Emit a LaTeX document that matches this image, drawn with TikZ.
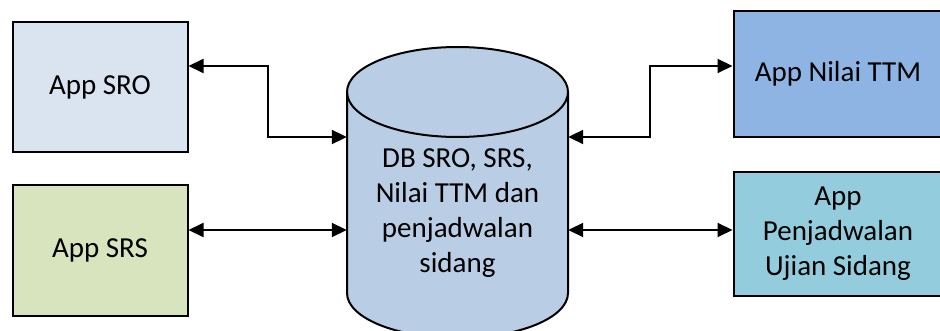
\documentclass[tikz,border=0pt]{standalone}
\usepackage{fontspec}
\setmainfont{Carlito}
\usetikzlibrary{arrows.meta,calc}
\definecolor{sroFill}{HTML}{DAE3F0}
\definecolor{srsFill}{HTML}{D7E4BD}
\definecolor{dbFill}{HTML}{B9CDE5}
\definecolor{ttmFill}{HTML}{8EB4E3}
\definecolor{pjwFill}{HTML}{93CDDD}
\tikzset{
  appbox/.style={draw=black, line width=2pt, align=center, inner sep=0pt,
    font=\fontsize{29}{35}\selectfont},
  link/.style={draw=black, line width=2pt,
    {Triangle[length=15pt,width=14pt]}-{Triangle[length=15pt,width=14pt]}},
}
\begin{document}
\begin{tikzpicture}[x=1pt,y=-1pt]
\useasboundingbox (0,0) rectangle (940,331);
\fill[white] (0,0) rectangle (940,331);
\clip (0,0) rectangle (940,331);

% application boxes
\node[appbox, fill=sroFill, minimum width=175pt, minimum height=130pt] (sro) at (100,87.5) {\raisebox{-2pt}{App SRO}};
\node[appbox, fill=srsFill, minimum width=175pt, minimum height=130pt] (srs) at (100,250.5) {App SRS};
\node[appbox, fill=ttmFill, minimum width=209pt, minimum height=126pt] (ttm) at (838,74) {\raisebox{-3pt}{App Nilai TTM}};
\node[appbox, fill=pjwFill, minimum width=209pt, minimum height=124pt] (pjw) at (838,234) {App\\Penjadwalan\\Ujian Sidang};

% database cylinder
\node[minimum width=221pt, minimum height=291pt, inner sep=0pt] (db) at (457.5,192.5) {};
\filldraw[fill=dbFill, line width=2pt]
  (347,92) -- (347,293) arc[start angle=180, end angle=360, x radius=110.5pt, y radius=45pt]
  -- (568,92) arc[start angle=0, end angle=180, x radius=110.5pt, y radius=45pt] -- cycle;
\draw[line width=2pt] (347,92) arc[start angle=180, end angle=360, x radius=110.5pt, y radius=45pt];
\node[align=center, inner sep=0pt, font=\fontsize{29}{35}\selectfont] (dbtext) at (457.5,213)
  {DB SRO, SRS,\\Nilai TTM dan\\penjadwalan\\sidang};

% connectors
\coordinate (top) at (0,66);
\coordinate (upper) at (0,137);
\coordinate (lower) at (0,230);
\draw[link] (sro.east |- top) -- (268,66) -- (268,137) -- (db.west |- upper);
\draw[link] (srs.east |- lower) -- (db.west |- lower);
\draw[link] (db.east |- upper) -- (650,137) -- (650,66) -- (ttm.west |- top);
\draw[link] (db.east |- lower) -- (pjw.west |- lower);
\end{tikzpicture}
\end{document}
